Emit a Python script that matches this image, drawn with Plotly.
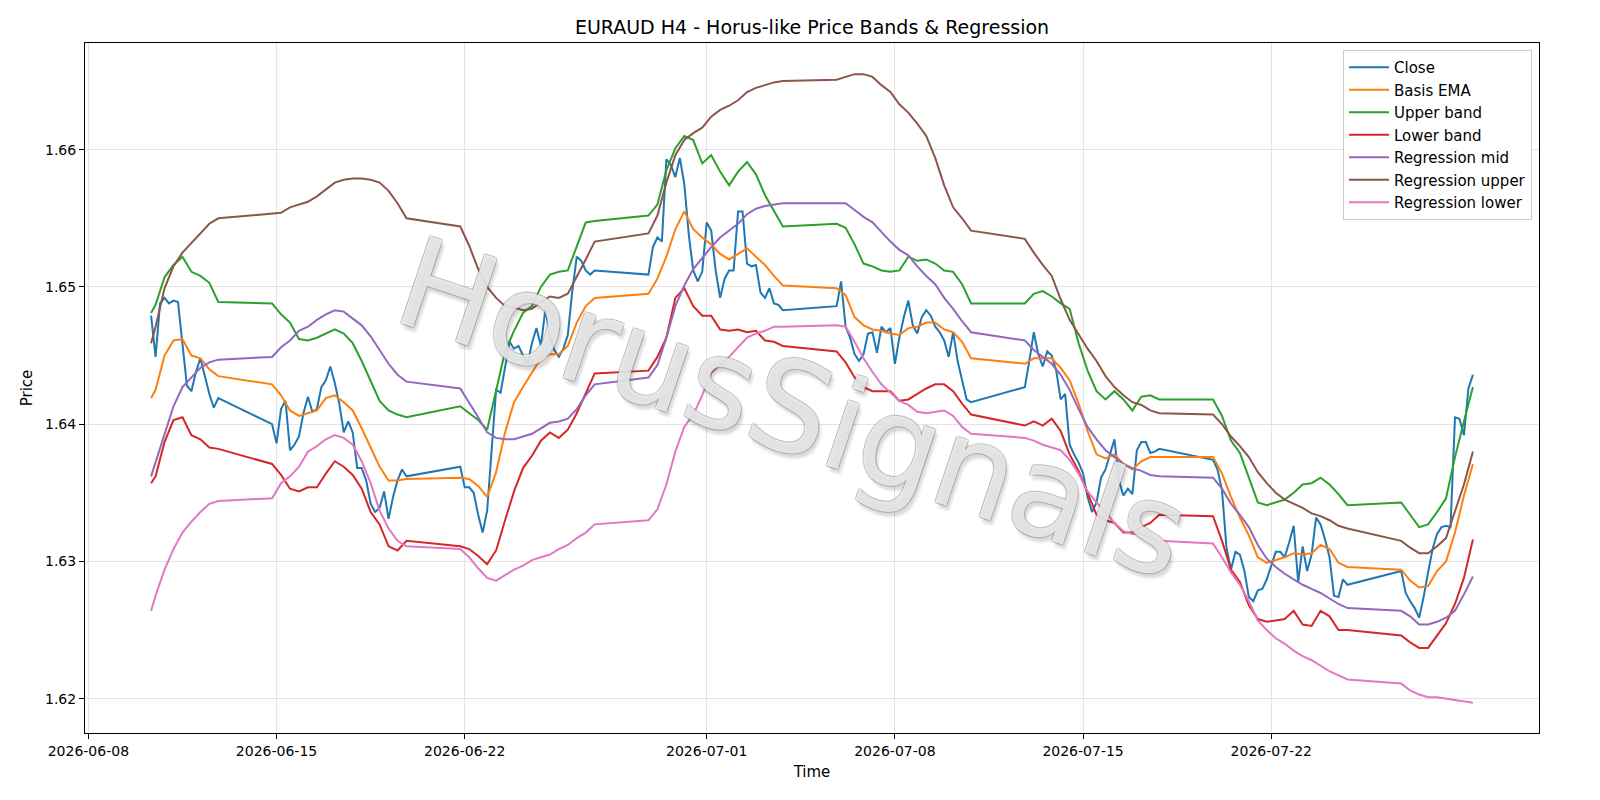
import plotly.graph_objects as go
from datetime import datetime, timedelta

# ---------------- time axis (H4 bars, Sun 20:00 -> Fri 20:00) ----------------
week_starts = ["2026-06-10 08:00", "2026-06-14 20:00", "2026-06-21 20:00", "2026-06-28 20:00",
               "2026-07-05 20:00", "2026-07-12 20:00", "2026-07-19 20:00", "2026-07-26 20:00"]
bars_per_week = [16, 31, 31, 31, 31, 31, 31, 17]
# bars at which the band / regression series were sampled (every 8 hours)
band_bar_index = [[0, 1, 3, 5, 7, 9, 11, 13, 15]] + [list(range(0, 31, 2))] * 6 + [list(range(0, 17, 2))]

# ---------------- series values (per week) ----------------
close = [
    [1.6479, 1.6449, 1.6488, 1.6492, 1.6488, 1.6490, 1.6489, 1.6459, 1.6428, 1.6424, 1.6438, 1.6448, 1.6434, 1.6422, 1.6412, 1.6419],
    [1.6400, 1.6386, 1.6411, 1.6417, 1.6381, 1.6385, 1.6391, 1.6408, 1.6420, 1.6409, 1.6411, 1.6427, 1.6432, 1.6442, 1.6430, 1.6415,
     1.6394, 1.6402, 1.6394, 1.6368, 1.6368, 1.6359, 1.6342, 1.6336, 1.6339, 1.6351, 1.6331, 1.6347, 1.6359, 1.6367, 1.6362],
    [1.6369, 1.6354, 1.6354, 1.6350, 1.6334, 1.6321, 1.6337, 1.6381, 1.6425, 1.6423, 1.6442, 1.6460, 1.6455, 1.6457, 1.6450, 1.6444,
     1.6459, 1.6470, 1.6457, 1.6484, 1.6464, 1.6454, 1.6449, 1.6455, 1.6465, 1.6497, 1.6522, 1.6519, 1.6512, 1.6509, 1.6512],
    [1.6509, 1.6529, 1.6536, 1.6533, 1.6593, 1.6589, 1.6580, 1.6594, 1.6575, 1.6538, 1.6512, 1.6504, 1.6511, 1.6547, 1.6541, 1.6512,
     1.6492, 1.6506, 1.6512, 1.6512, 1.6555, 1.6555, 1.6517, 1.6515, 1.6516, 1.6496, 1.6492, 1.6499, 1.6488, 1.6487, 1.6483],
    [1.6486, 1.6504, 1.6471, 1.6463, 1.6451, 1.6446, 1.6451, 1.6466, 1.6467, 1.6452, 1.6471, 1.6467, 1.6470, 1.6444, 1.6463, 1.6478,
     1.6490, 1.6472, 1.6466, 1.6478, 1.6483, 1.6479, 1.6471, 1.6467, 1.6461, 1.6449, 1.6467, 1.6446, 1.6432, 1.6418, 1.6416],
    [1.6427, 1.6446, 1.6467, 1.6451, 1.6442, 1.6453, 1.6450, 1.6439, 1.6418, 1.6422, 1.6385, 1.6378, 1.6372, 1.6364, 1.6347, 1.6336,
     1.6343, 1.6361, 1.6367, 1.6378, 1.6389, 1.6359, 1.6348, 1.6353, 1.6349, 1.6381, 1.6387, 1.6387, 1.6379, 1.6380, 1.6382],
    [1.6374, 1.6367, 1.6352, 1.6310, 1.6294, 1.6307, 1.6305, 1.6293, 1.6274, 1.6271, 1.6279, 1.6280, 1.6287, 1.6297, 1.6307, 1.6307,
     1.6303, 1.6314, 1.6326, 1.6285, 1.6311, 1.6293, 1.6305, 1.6332, 1.6327, 1.6316, 1.6303, 1.6275, 1.6274, 1.6287, 1.6283],
    [1.6293, 1.6277, 1.6271, 1.6266, 1.6259, 1.6274, 1.6292, 1.6309, 1.6320, 1.6325, 1.6326, 1.6325, 1.6405, 1.6404, 1.6392, 1.6426, 1.6436],
]

basis_ema = [
    [1.6419, 1.6425, 1.6450, 1.6461, 1.6462, 1.6450, 1.6448, 1.6440, 1.6435],
    [1.6429, 1.6421, 1.6410, 1.6406, 1.6408, 1.6410, 1.6419, 1.6421, 1.6416, 1.6410, 1.6397, 1.6383, 1.6369, 1.6359, 1.6359, 1.6360],
    [1.6361, 1.6360, 1.6355, 1.6347, 1.6365, 1.6394, 1.6416, 1.6427, 1.6438, 1.6448, 1.6451, 1.6451, 1.6457, 1.6474, 1.6486, 1.6492],
    [1.6495, 1.6506, 1.6522, 1.6542, 1.6555, 1.6542, 1.6536, 1.6531, 1.6524, 1.6520, 1.6524, 1.6528, 1.6522, 1.6516, 1.6508, 1.6501],
    [1.6499, 1.6494, 1.6478, 1.6472, 1.6469, 1.6468, 1.6466, 1.6465, 1.6470, 1.6471, 1.6474, 1.6474, 1.6469, 1.6467, 1.6460, 1.6448],
    [1.6444, 1.6448, 1.6448, 1.6448, 1.6441, 1.6432, 1.6415, 1.6395, 1.6378, 1.6375, 1.6378, 1.6371, 1.6367, 1.6373, 1.6376, 1.6376],
    [1.6376, 1.6364, 1.6347, 1.6332, 1.6319, 1.6303, 1.6299, 1.6301, 1.6303, 1.6306, 1.6305, 1.6306, 1.6312, 1.6309, 1.6299, 1.6296],
    [1.6294, 1.6286, 1.6281, 1.6282, 1.6293, 1.6300, 1.6321, 1.6348, 1.6371],
]

upper_band = [
    [1.6481, 1.6487, 1.6507, 1.6516, 1.6522, 1.6511, 1.6508, 1.6503, 1.6489],
    [1.6488, 1.6480, 1.6474, 1.6462, 1.6461, 1.6463, 1.6466, 1.6469, 1.6466, 1.6459, 1.6446, 1.6432, 1.6417, 1.6410, 1.6407, 1.6405],
    [1.6413, 1.6408, 1.6403, 1.6396, 1.6425, 1.6453, 1.6468, 1.6481, 1.6486, 1.6500, 1.6509, 1.6511, 1.6512, 1.6529, 1.6547, 1.6548],
    [1.6552, 1.6560, 1.6585, 1.6601, 1.6610, 1.6607, 1.6590, 1.6596, 1.6584, 1.6574, 1.6584, 1.6591, 1.6582, 1.6567, 1.6555, 1.6544],
    [1.6546, 1.6543, 1.6531, 1.6517, 1.6515, 1.6512, 1.6511, 1.6512, 1.6522, 1.6519, 1.6520, 1.6517, 1.6512, 1.6511, 1.6502, 1.6488],
    [1.6488, 1.6495, 1.6497, 1.6493, 1.6488, 1.6484, 1.6459, 1.6439, 1.6424, 1.6418, 1.6424, 1.6418, 1.6410, 1.6420, 1.6421, 1.6418],
    [1.6418, 1.6406, 1.6388, 1.6379, 1.6361, 1.6343, 1.6341, 1.6343, 1.6345, 1.6350, 1.6356, 1.6357, 1.6361, 1.6356, 1.6349, 1.6341],
    [1.6343, 1.6334, 1.6325, 1.6327, 1.6336, 1.6346, 1.6376, 1.6402, 1.6427],
]

lower_band = [
    [1.6357, 1.6362, 1.6387, 1.6403, 1.6405, 1.6392, 1.6389, 1.6383, 1.6382],
    [1.6371, 1.6363, 1.6353, 1.6351, 1.6354, 1.6354, 1.6364, 1.6373, 1.6369, 1.6363, 1.6353, 1.6336, 1.6327, 1.6311, 1.6308, 1.6315],
    [1.6311, 1.6309, 1.6304, 1.6298, 1.6308, 1.6330, 1.6351, 1.6368, 1.6377, 1.6388, 1.6394, 1.6390, 1.6396, 1.6408, 1.6423, 1.6437],
    [1.6439, 1.6449, 1.6463, 1.6492, 1.6499, 1.6486, 1.6479, 1.6479, 1.6469, 1.6468, 1.6469, 1.6467, 1.6468, 1.6461, 1.6460, 1.6457],
    [1.6453, 1.6445, 1.6434, 1.6427, 1.6424, 1.6424, 1.6424, 1.6417, 1.6418, 1.6422, 1.6426, 1.6429, 1.6429, 1.6424, 1.6415, 1.6407],
    [1.6399, 1.6402, 1.6399, 1.6404, 1.6395, 1.6378, 1.6366, 1.6350, 1.6334, 1.6330, 1.6328, 1.6321, 1.6321, 1.6325, 1.6328, 1.6334],
    [1.6333, 1.6315, 1.6294, 1.6285, 1.6268, 1.6258, 1.6256, 1.6257, 1.6258, 1.6264, 1.6254, 1.6253, 1.6264, 1.6260, 1.6250, 1.6250],
    [1.6246, 1.6241, 1.6237, 1.6237, 1.6246, 1.6255, 1.6269, 1.6288, 1.6316],
]

regression_mid = [
    [1.6362, 1.6372, 1.6393, 1.6413, 1.6427, 1.6434, 1.6441, 1.6445, 1.6447],
    [1.6449, 1.6456, 1.6461, 1.6468, 1.6471, 1.6476, 1.6480, 1.6483, 1.6482, 1.6477, 1.6472, 1.6464, 1.6454, 1.6444, 1.6436, 1.6431],
    [1.6426, 1.6416, 1.6405, 1.6394, 1.6390, 1.6389, 1.6389, 1.6391, 1.6393, 1.6397, 1.6401, 1.6402, 1.6404, 1.6411, 1.6421, 1.6429],
    [1.6434, 1.6443, 1.6463, 1.6486, 1.6501, 1.6513, 1.6521, 1.6529, 1.6536, 1.6541, 1.6546, 1.6553, 1.6557, 1.6559, 1.6560, 1.6561],
    [1.6561, 1.6561, 1.6556, 1.6551, 1.6547, 1.6540, 1.6533, 1.6527, 1.6523, 1.6515, 1.6508, 1.6502, 1.6492, 1.6484, 1.6475, 1.6467],
    [1.6461, 1.6454, 1.6449, 1.6444, 1.6436, 1.6425, 1.6411, 1.6398, 1.6389, 1.6381, 1.6376, 1.6371, 1.6368, 1.6366, 1.6363, 1.6362],
    [1.6361, 1.6353, 1.6342, 1.6334, 1.6325, 1.6312, 1.6302, 1.6296, 1.6291, 1.6287, 1.6283, 1.6280, 1.6277, 1.6273, 1.6269, 1.6266],
    [1.6264, 1.6260, 1.6254, 1.6254, 1.6256, 1.6259, 1.6264, 1.6276, 1.6289],
]

regression_upper = [
    [1.6459, 1.6471, 1.6499, 1.6515, 1.6525, 1.6532, 1.6539, 1.6546, 1.6550],
    [1.6553, 1.6554, 1.6558, 1.6560, 1.6562, 1.6566, 1.6571, 1.6576, 1.6578, 1.6579, 1.6579, 1.6578, 1.6576, 1.6570, 1.6561, 1.6550],
    [1.6544, 1.6530, 1.6513, 1.6500, 1.6492, 1.6486, 1.6485, 1.6483, 1.6484, 1.6489, 1.6493, 1.6492, 1.6495, 1.6507, 1.6520, 1.6533],
    [1.6539, 1.6552, 1.6576, 1.6596, 1.6607, 1.6612, 1.6616, 1.6624, 1.6629, 1.6632, 1.6636, 1.6642, 1.6645, 1.6647, 1.6649, 1.6650],
    [1.6651, 1.6653, 1.6655, 1.6655, 1.6653, 1.6647, 1.6642, 1.6633, 1.6627, 1.6619, 1.6610, 1.6594, 1.6574, 1.6558, 1.6550, 1.6541],
    [1.6535, 1.6525, 1.6516, 1.6508, 1.6491, 1.6476, 1.6465, 1.6455, 1.6446, 1.6435, 1.6427, 1.6421, 1.6416, 1.6414, 1.6410, 1.6408],
    [1.6407, 1.6400, 1.6391, 1.6384, 1.6376, 1.6365, 1.6357, 1.6350, 1.6345, 1.6342, 1.6339, 1.6335, 1.6333, 1.6330, 1.6326, 1.6324],
    [1.6315, 1.6310, 1.6306, 1.6306, 1.6311, 1.6317, 1.6337, 1.6356, 1.6380],
]

regression_lower = [
    [1.6264, 1.6275, 1.6294, 1.6309, 1.6321, 1.6329, 1.6336, 1.6342, 1.6344],
    [1.6346, 1.6357, 1.6362, 1.6369, 1.6380, 1.6384, 1.6389, 1.6392, 1.6390, 1.6385, 1.6373, 1.6357, 1.6337, 1.6324, 1.6315, 1.6311],
    [1.6309, 1.6303, 1.6295, 1.6288, 1.6286, 1.6290, 1.6294, 1.6297, 1.6301, 1.6303, 1.6305, 1.6309, 1.6312, 1.6317, 1.6321, 1.6327],
    [1.6330, 1.6338, 1.6356, 1.6380, 1.6398, 1.6407, 1.6421, 1.6437, 1.6443, 1.6449, 1.6456, 1.6463, 1.6466, 1.6468, 1.6471, 1.6471],
    [1.6472, 1.6471, 1.6460, 1.6448, 1.6438, 1.6429, 1.6423, 1.6417, 1.6414, 1.6409, 1.6408, 1.6409, 1.6410, 1.6406, 1.6398, 1.6393],
    [1.6390, 1.6388, 1.6385, 1.6383, 1.6381, 1.6374, 1.6364, 1.6351, 1.6343, 1.6336, 1.6328, 1.6322, 1.6320, 1.6320, 1.6317, 1.6315],
    [1.6313, 1.6303, 1.6292, 1.6283, 1.6271, 1.6257, 1.6250, 1.6244, 1.6240, 1.6235, 1.6231, 1.6228, 1.6224, 1.6220, 1.6217, 1.6214],
    [1.6211, 1.6206, 1.6203, 1.6201, 1.6201, 1.6200, 1.6199, 1.6198, 1.6197],
]

x_tick_dates = ["2026-06-08", "2026-06-15", "2026-06-22", "2026-07-01", "2026-07-08",
                "2026-07-15", "2026-07-22", "2026-08-01"]
y_ticks = [1.62, 1.63, 1.64, 1.65, 1.66]
y_tick_labels = ["1.62", "1.63", "1.64", "1.65", "1.66"]

# ---------------- build time stamps ----------------
bar_times, band_times = [], []
for ws, n, idx in zip(week_starts, bars_per_week, band_bar_index):
    t0 = datetime.strptime(ws, "%Y-%m-%d %H:%M")
    week = [t0 + timedelta(hours=4 * i) for i in range(n)]
    bar_times += week
    band_times += [week[i] for i in idx]


def flat(weeks):
    out = []
    for w in weeks:
        out += w
    return out


series = [
    ("Close", bar_times, flat(close), "#1f77b4"),
    ("Basis EMA", band_times, flat(basis_ema), "#ff7f0e"),
    ("Upper band", band_times, flat(upper_band), "#2ca02c"),
    ("Lower band", band_times, flat(lower_band), "#d62728"),
    ("Regression mid", band_times, flat(regression_mid), "#9467bd"),
    ("Regression upper", band_times, flat(regression_upper), "#8c564b"),
    ("Regression lower", band_times, flat(regression_lower), "#e377c2"),
]

fig = go.Figure()
for name, xs, ys, col in series:
    assert len(xs) == len(ys), (name, len(xs), len(ys))
    fig.add_trace(go.Scatter(x=xs, y=ys, mode="lines", name=name,
                             line=dict(color=col, width=2)))

# watermark (light fill, grey outline, soft drop shadow)
outline = "rgba(120,120,120,0.4)"
fig.add_annotation(
    text="HorusSignals", xref="paper", yref="paper", x=0.487, y=0.47,
    showarrow=False, textangle=18.5,
    font=dict(family="DejaVu Sans", size=126, color="rgba(255,255,255,0.74)",
              shadow=(f"1px 1px 0 {outline}, -1px -1px 0 {outline}, "
                      f"1px -1px 0 {outline}, -1px 1px 0 {outline}, "
                      "4px 4px 3px rgba(0,0,0,0.2)")),
)

axis_common = dict(showgrid=True, gridcolor="#e4e4e4", gridwidth=1, showline=True, mirror=True,
                   linecolor="black", linewidth=1, ticks="outside", ticklen=5, tickwidth=1,
                   tickcolor="black", zeroline=False, tickfont=dict(size=14, color="black"))

fig.update_layout(
    width=1600, height=800, autosize=False,
    margin=dict(l=85, r=61, t=43, b=67),
    paper_bgcolor="white", plot_bgcolor="white",
    font=dict(family="DejaVu Sans", size=14, color="black"),
    title=dict(text="EURAUD H4 - Horus-like Price Bands & Regression", x=0.5, xref="paper",
               xanchor="center", y=1 - 27 / 800, yref="container", yanchor="middle",
               font=dict(size=19, color="black")),
    xaxis=dict(range=["2026-06-07 21:00", "2026-07-31 23:00"], type="date",
               tickvals=x_tick_dates, ticktext=x_tick_dates,
               title=dict(text="Time", standoff=8, font=dict(size=15)), **axis_common),
    yaxis=dict(range=[1.6175, 1.66777], tickvals=y_ticks, ticktext=y_tick_labels,
               title=dict(text="Price", standoff=8, font=dict(size=15)), **axis_common),
    legend=dict(x=0.9952, xanchor="right", y=0.9899, yanchor="top",
                bgcolor="rgba(255,255,255,0.85)", bordercolor="#cccccc", borderwidth=1,
                font=dict(size=15, color="black"), itemwidth=40),
    showlegend=True,
)

fig.write_html("out.html")
